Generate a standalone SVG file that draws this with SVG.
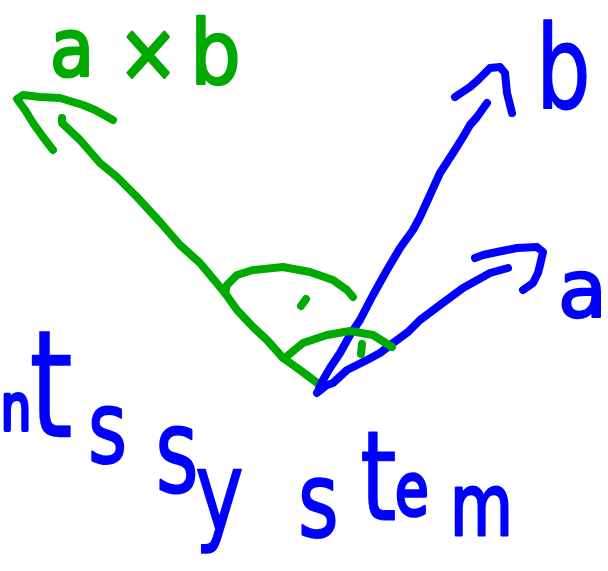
<svg xmlns="http://www.w3.org/2000/svg" width="608" height="571" viewBox="0 0 608 571">
<style>
.g{fill:none;stroke:#00aa00;stroke-width:8;stroke-linecap:round;stroke-linejoin:round}
.b{fill:none;stroke:#0000ff;stroke-width:8;stroke-linecap:round;stroke-linejoin:round}
.tg{font-family:"DejaVu Sans",sans-serif;fill:#00aa00;stroke:#00aa00;stroke-linejoin:round}
.tb{font-family:"DejaVu Sans",sans-serif;fill:#0000ff;stroke:#0000ff;stroke-linejoin:round}
</style>
<rect width="608" height="571" fill="#ffffff"/>
<g id="connectors">
<g id="vector-axb">
<polyline class="g" points="62,118 62,123 80,140 100,163 117,177 137,197 160,222 180,245 200,263 225,293 237,310 253,327 267,340 283,358 300,370 320,385"/>
<polyline class="g" points="113,120 95,110 83,105 60,98 40,97 23,95 17,99 25,110 33,123 43,137 53,150"/>
</g>
<g id="vector-b">
<polyline class="b" points="318,391 323,380 330,368 340,353 350,335 360,320 373,295 387,270 400,248 413,230 420,217 430,195 440,173 453,153 463,137 470,125 477,117 487,103"/>
<polyline class="b" points="455,97 470,87 478,80 490,68 500,67 505,73 507,93 512,113"/>
</g>
<g id="vector-a">
<polyline class="b" points="317,393 327,385 333,383 347,370 367,360 380,353 393,343 408,332 420,320 440,305 463,288 490,273 508,268"/>
<polyline class="b" points="475,258 483,255 497,252 517,248 537,247 543,252 540,265 538,273 533,283 523,290"/>
</g>
<g id="right-angle-marks">
<polyline class="g" points="225,293 227,285 237,275 253,270 283,267 310,272 333,280 347,290 353,297"/>
<polyline class="g" points="306,299 301,306"/>
<polyline class="g" points="285,358 292,352 303,343 327,335 350,331 373,335 392,347"/>
<polyline class="g" points="362,344 361,354"/>
</g>
</g>
<g id="label-axb">
<text class="tg" transform="scale(0.9 1)"><tspan x="55.6" y="76" font-size="80" stroke-width="3">a</tspan><tspan x="131.1" y="80" font-size="80" stroke-width="3">×</tspan><tspan x="211.1" y="84" font-size="89" stroke-width="2.5">b</tspan></text>
</g>
<g id="label-b">
<text class="tb" transform="scale(0.75 1)"><tspan x="714.7" y="108" font-size="115" stroke-width="1.5">b</tspan></text>
</g>
<g id="label-a">
<text class="tb" x="558" y="317" font-size="80" stroke-width="2.5">a</text>
</g>
<g id="label-system">
<text class="tb" transform="scale(0.75 1)"><tspan x="1" y="430" font-size="64" stroke-width="4">n</tspan><tspan x="38.7" y="437" font-size="150" stroke-width="0.5">t</tspan><tspan x="117.3" y="463" font-size="100" stroke-width="2">s</tspan><tspan x="208" y="492" font-size="88" stroke-width="3">S</tspan><tspan x="260" y="530" font-size="110" stroke-width="1.5">y</tspan><tspan x="397.3" y="537" font-size="104" stroke-width="2">s</tspan><tspan x="480" y="520" font-size="125" stroke-width="1">t</tspan><tspan x="526.7" y="515" font-size="73" stroke-width="3.5">e</tspan><tspan x="600" y="535" font-size="86" stroke-width="3">m</tspan></text>
</g>
</svg>
